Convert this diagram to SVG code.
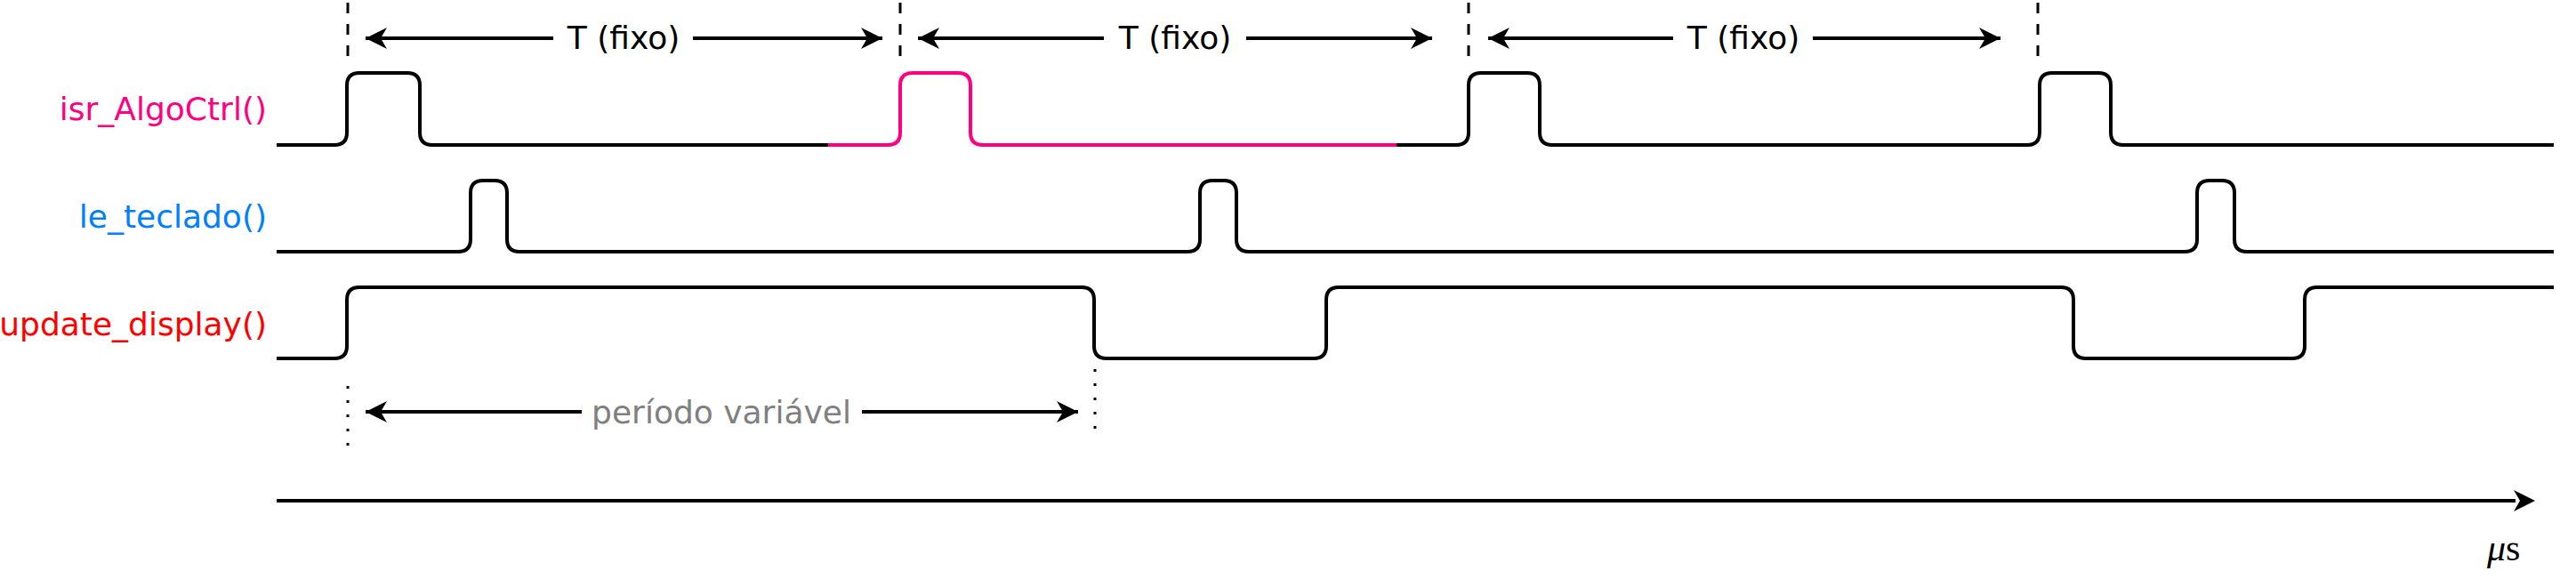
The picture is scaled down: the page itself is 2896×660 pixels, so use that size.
<svg xmlns="http://www.w3.org/2000/svg" width="2896" height="660" viewBox="0 0 2896 660">
<style>
.lbl{font-family:"DejaVu Sans",Verdana,sans-serif;font-size:36px}
.wave{fill:none;stroke:#000;stroke-width:4;stroke-linejoin:round}
.dash{stroke:#000;stroke-width:3;stroke-dasharray:12 12;fill:none}
.dot{stroke:#000;stroke-width:3;stroke-dasharray:3 13;fill:none}
.dim{stroke:#000;stroke-width:4;fill:none;marker-start:url(#ah);marker-end:url(#ah)}
</style>
<defs>
<marker id="ah" markerUnits="userSpaceOnUse" markerWidth="30" markerHeight="30" viewBox="-26 -14 30 28" refX="0" refY="0" orient="auto-start-reverse">
<path d="M0,0 L-24,-12 L-17,0 L-24,12 Z" fill="#000"/>
</marker>
</defs>
<rect width="2896" height="660" fill="#fff"/>

<g id="labels">
<text class="lbl" x="300" y="135" text-anchor="end" fill="#FF0080">isr_AlgoCtrl()</text>
<text class="lbl" x="300" y="256" text-anchor="end" fill="#007FFF">le_teclado()</text>
<text class="lbl" x="300" y="377" text-anchor="end" fill="#FF0000">update_display()</text>
</g>

<g id="isr">
<path class="wave" d="M311,163 H376 Q390,163 390,149 V96 Q390,82 404,82 H458 Q472,82 472,96 V149 Q472,163 486,163 H931"/>
<path class="wave" style="stroke:#FF0080" d="M931,163 H998 Q1012,163 1012,149 V96 Q1012,82 1026,82 H1077 Q1091,82 1091,96 V149 Q1091,163 1105,163 H1570"/>
<path class="wave" d="M1570,163 H1637 Q1651,163 1651,149 V96 Q1651,82 1665,82 H1717 Q1731,82 1731,96 V149 Q1731,163 1745,163 H2279 Q2293,163 2293,149 V96 Q2293,82 2307,82 H2359 Q2373,82 2373,96 V149 Q2373,163 2387,163 H2871"/>
</g>

<g id="le_teclado">
<path class="wave" d="M311,283 H515 Q529,283 529,269 V217 Q529,203 543,203 H556 Q570,203 570,217 V269 Q570,283 584,283 H1335 Q1349,283 1349,269 V217 Q1349,203 1363,203 H1376 Q1390,203 1390,217 V269 Q1390,283 1404,283 H2456 Q2470,283 2470,269 V217 Q2470,203 2484,203 H2498 Q2512,203 2512,217 V269 Q2512,283 2526,283 H2871"/>
</g>

<g id="update_display">
<path class="wave" d="M311,403 H376 Q390,403 390,389 V337 Q390,323 404,323 H1216 Q1230,323 1230,337 V389 Q1230,403 1244,403 H1477 Q1491,403 1491,389 V337 Q1491,323 1505,323 H2317 Q2331,323 2331,337 V389 Q2331,403 2345,403 H2577 Q2591,403 2591,389 V337 Q2591,323 2605,323 H2871"/>
</g>

<g id="markers-lines">
<line class="dash" x1="391" y1="3" x2="391" y2="63"/>
<line class="dash" x1="1012" y1="3" x2="1012" y2="63"/>
<line class="dash" x1="1651" y1="3" x2="1651" y2="63"/>
<line class="dash" x1="2291" y1="3" x2="2291" y2="63"/>
<line class="dot" x1="391" y1="434" x2="391" y2="503"/>
<line class="dot" x1="1231" y1="415" x2="1231" y2="483"/>
</g>

<g id="connectors">
<line class="dim" x1="411" y1="43" x2="992" y2="43"/>
<line class="dim" x1="1032" y1="43" x2="1610" y2="43"/>
<line class="dim" x1="1673" y1="43" x2="2249" y2="43"/>
<line class="dim" x1="411" y1="463" x2="1212" y2="463"/>
<line stroke="#000" stroke-width="4" x1="311" y1="563" x2="2828" y2="563"/>
<path d="M2850,563 L2826,551 L2833,563 L2826,575 Z" fill="#000"/>
</g>

<g id="dim-labels">
<rect x="622" y="20" width="157" height="46" fill="#fff"/>
<text class="lbl" x="701" y="55" text-anchor="middle" fill="#000">T (fixo)</text>
<rect x="1241" y="20" width="160" height="46" fill="#fff"/>
<text class="lbl" x="1321" y="55" text-anchor="middle" fill="#000">T (fixo)</text>
<rect x="1881" y="20" width="157" height="46" fill="#fff"/>
<text class="lbl" x="1960" y="55" text-anchor="middle" fill="#000">T (fixo)</text>
<rect x="654" y="440" width="315" height="46" fill="#fff"/>
<text class="lbl" x="811" y="476" text-anchor="middle" fill="#808080">período variável</text>
<text x="2796" y="630" font-family="'Liberation Serif',serif" font-size="42" fill="#000"><tspan font-style="italic">μ</tspan>s</text>
</g>
</svg>
